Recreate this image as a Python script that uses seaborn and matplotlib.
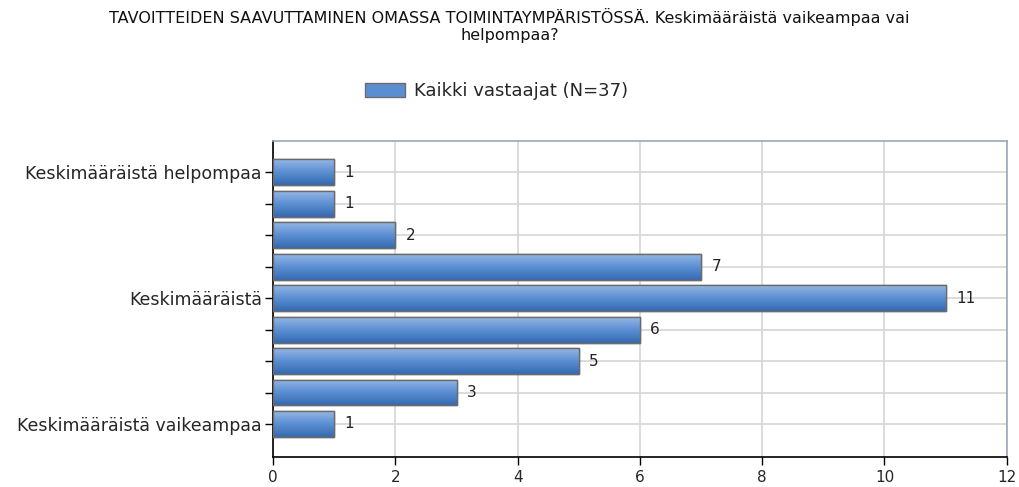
import matplotlib
matplotlib.use("Agg")
import matplotlib.pyplot as plt
import pandas as pd
import seaborn as sns
import numpy as np
from matplotlib.patches import Patch

# data (top -> bottom)
levels = ["9", "8", "7", "6", "5", "4", "3", "2", "1"]
counts = [1, 1, 2, 7, 11, 6, 5, 3, 1]
level_labels = ["Keskimääräistä helpompaa", "", "", "", "Keskimääräistä",
                "", "", "", "Keskimääräistä vaikeampaa"]
series_name = "Kaikki vastaajat (N=37)"
title = ("TAVOITTEIDEN SAAVUTTAMINEN OMASSA TOIMINTAYMPÄRISTÖSSÄ. "
         "Keskimääräistä vaikeampaa vai\nhelpompaa?")

df = pd.DataFrame({"level": levels, "count": counts})

sns.set_theme(style="white")
plt.rcParams['font.family'] = ['DejaVu Sans']

fig = plt.figure(figsize=(10.19, 4.87), dpi=100)
ax = fig.add_axes([0.268, 0.0616, 0.72, 0.649])

sns.barplot(data=df, y="level", x="count", order=levels, orient="h",
            color="#4f82c6", saturation=1, width=0.82,
            edgecolor="#6b6b6b", linewidth=1, ax=ax, zorder=3)

# vertical gradient on each bar, light on top and darker below
grad = np.linspace(0, 1, 64).reshape(-1, 1)
cmap = matplotlib.colors.LinearSegmentedColormap.from_list(
    "bar", ["#93b6e4", "#5b8fd2", "#356ab2"])
for p in ax.patches:
    x0, y0 = p.get_x(), p.get_y()
    w, h = p.get_width(), p.get_height()
    im = ax.imshow(grad, cmap=cmap, aspect="auto", zorder=3.5,
                   extent=[x0, x0 + w, y0 + h, y0])
    im.set_clip_path(p)
    edge = plt.Rectangle((x0, y0), w, h, fill=False, edgecolor="#6b6b6b",
                         linewidth=1, zorder=4)
    ax.add_patch(edge)

for i, v in enumerate(counts):
    ax.text(v + 0.17, i, str(v), va="center", ha="left", fontsize=11,
            color="#222222", zorder=5)

ax.set_xlim(0, 12)
ax.set_ylim(8 + 1.05, -1)
ax.set_xticks(np.arange(0, 13, 2))
ax.set_yticks(range(len(levels)))
ax.set_yticklabels(level_labels, fontsize=12.5)
ax.tick_params(axis="x", labelsize=11, length=6, width=1, color="black",
               direction="out", bottom=True, pad=3)
ax.tick_params(axis="y", length=6, width=1, color="black",
               direction="out", left=True, pad=2)
ax.set_xlabel("")
ax.set_ylabel("")

ax.grid(True, axis="both", color="#d6d6d6", linewidth=1.2, zorder=1)
ax.set_axisbelow(True)

for side in ["top", "right"]:
    ax.spines[side].set_color("#9aa8b8")
    ax.spines[side].set_linewidth(1.2)
for side in ["left", "bottom"]:
    ax.spines[side].set_color("black")
    ax.spines[side].set_linewidth(1.2)

fig.text(0.5, 0.948, title, ha="center", va="center", fontsize=11.5,
         linespacing=1.2, color="#111111")

handle = Patch(facecolor="#5a8ed3", edgecolor="#6b6b6b", label=series_name)
fig.legend(handles=[handle], loc="center", bbox_to_anchor=(0.487, 0.813),
           frameon=False, fontsize=13, handlelength=2.2, handleheight=0.8,
           handletextpad=0.5)

fig.savefig("out.png", dpi=100)
